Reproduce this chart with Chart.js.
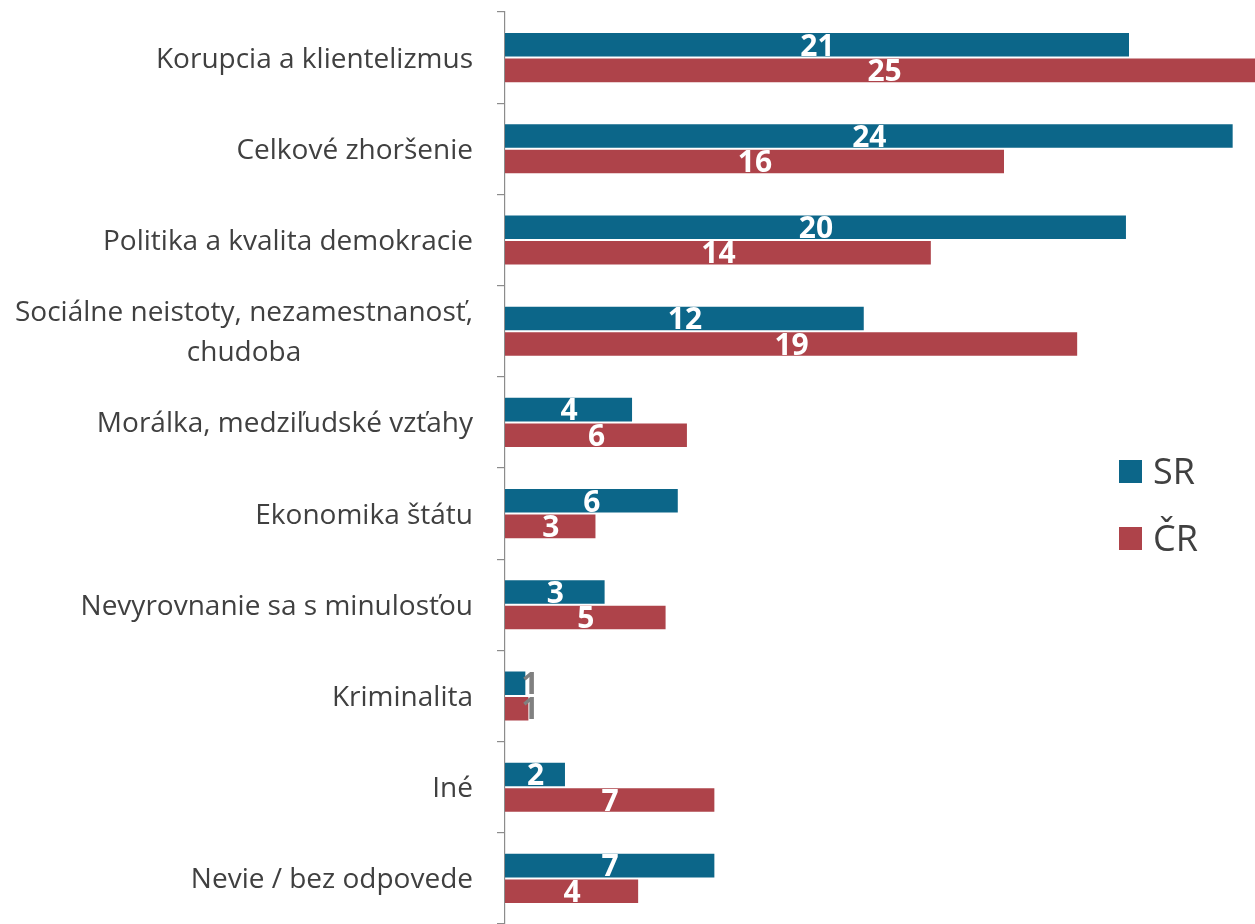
<!DOCTYPE html>
<html>
<head>
<meta charset="utf-8">
<script src="https://cdn.jsdelivr.net/npm/chart.js@4"></script>
<style>
  html, body { margin: 0; padding: 0; background: #ffffff; }
  #wrap { width: 1255px; height: 924px; position: relative; }
</style>
</head>
<body>
<div id="wrap"><canvas id="c" width="1255" height="924"></canvas></div>
<script>
// ---- data ----
const categories = [
  ["Korupcia a klientelizmus"],
  ["Celkové zhoršenie"],
  ["Politika a kvalita demokracie"],
  ["Sociálne neistoty, nezamestnanosť,", "chudoba"],
  ["Morálka, medziľudské vzťahy"],
  ["Ekonomika štátu"],
  ["Nevyrovnanie sa s minulosťou"],
  ["Kriminalita"],
  ["Iné"],
  ["Nevie / bez odpovede"]
];
const seriesNames = ["SR", "ČR"];
const valuesSR = [20.5, 23.9, 20.4, 11.8, 4.2, 5.7, 3.3, 0.7, 2.0, 6.9];
const valuesCR = [24.9, 16.4, 14.0, 18.8, 6.0, 3.0, 5.3, 0.8, 6.9, 4.4];
const xMin = 0;
const xMax = 24.6;

const colorSR = "#0c6689";
const colorCR = "#ae434a";
const textColor = "#404040";
const fontFamily = "'Open Sans', 'Noto Sans', sans-serif";

const labelsPlugin = {
  id: "customLabels",
  afterDatasetsDraw(chart) {
    const ctx = chart.ctx;
    ctx.save();
    const fs = 30;
    ctx.font = "bold " + fs + "px " + fontFamily;
    ctx.textAlign = "center";
    ctx.textBaseline = "alphabetic";
    chart.data.datasets.forEach((ds, di) => {
      const meta = chart.getDatasetMeta(di);
      meta.data.forEach((bar, i) => {
        const v = ds.data[i];
        const w = Math.abs(bar.x - bar.base);
        let x = (bar.x + bar.base) / 2;
        let col = "#ffffff";
        if (w < 30) { x = bar.base + 25; col = "#808080"; }
        ctx.fillStyle = col;
        ctx.fillText(String(Math.round(v)), x, bar.y + fs * 0.357);
      });
    });
    ctx.restore();
  },
  afterDraw(chart) {
    const ctx = chart.ctx;
    const yScale = chart.scales.y;
    const area = chart.chartArea;
    ctx.save();
    // category labels
    const fs = 28;
    ctx.font = fs + "px " + fontFamily;
    ctx.fillStyle = textColor;
    ctx.textBaseline = "alphabetic";
    const rightX = area.left - 32;
    const lineH = 40;
    categories.forEach((lines, i) => {
      const cy = yScale.getPixelForValue(i);
      const widest = Math.max(...lines.map(l => ctx.measureText(l).width));
      const n = lines.length;
      lines.forEach((l, k) => {
        const yy = cy + (k - (n - 1) / 2) * lineH + fs * 0.357;
        if (n === 1) {
          ctx.textAlign = "right";
          ctx.fillText(l, rightX, yy);
        } else {
          ctx.textAlign = "center";
          ctx.fillText(l, rightX - widest / 2, yy);
        }
      });
    });
    // legend
    const lfs = 36;
    ctx.font = lfs + "px " + fontFamily;
    ctx.textAlign = "left";
    const legendItems = [
      { name: seriesNames[0], color: colorSR, cy: 471.5 },
      { name: seriesNames[1], color: colorCR, cy: 538.5 }
    ];
    legendItems.forEach(it => {
      ctx.fillStyle = it.color;
      ctx.fillRect(1119, it.cy - 11.5, 23, 23);
      ctx.fillStyle = textColor;
      ctx.fillText(it.name, 1153, it.cy + lfs * 0.357);
    });
    ctx.restore();
  }
};

new Chart(document.getElementById("c"), {
  type: "bar",
  data: {
    labels: categories,
    datasets: [
      { label: seriesNames[0], data: valuesSR, backgroundColor: colorSR,
        borderColor: "rgba(255,255,255,0.45)", borderWidth: 1,
        categoryPercentage: 0.56, barPercentage: 1.0 },
      { label: seriesNames[1], data: valuesCR, backgroundColor: colorCR,
        borderColor: "rgba(255,255,255,0.45)", borderWidth: 1,
        categoryPercentage: 0.56, barPercentage: 1.0 }
    ]
  },
  options: {
    indexAxis: "y",
    responsive: false,
    animation: false,
    layout: { padding: { left: 497, top: 12, right: 0, bottom: 0 } },
    plugins: { legend: { display: false }, tooltip: { enabled: false } },
    scales: {
      x: {
        display: false,
        min: xMin,
        max: xMax
      },
      y: {
        offset: true,
        ticks: { display: false },
        grid: { display: true, drawOnChartArea: false, drawTicks: true, tickLength: 8,
                offset: true, color: "#8c8c8c", lineWidth: 1.2 },
        border: { display: true, color: "#8c8c8c", width: 1.2 }
      }
    }
  },
  plugins: [labelsPlugin]
});
</script>
</body>
</html>
